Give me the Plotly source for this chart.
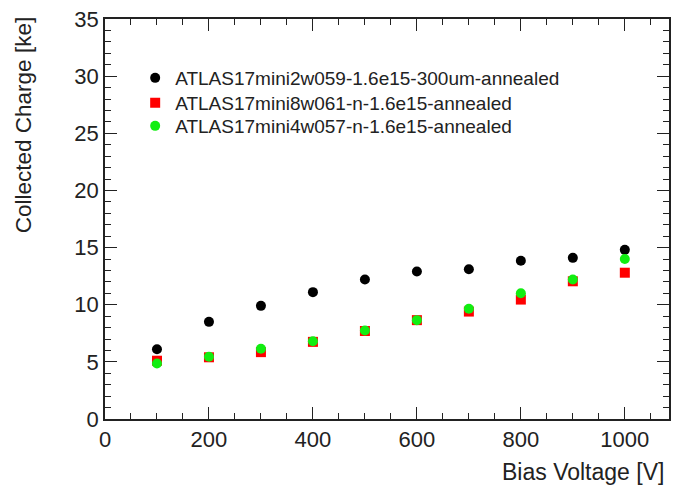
import plotly.graph_objects as go

bias_voltage = [100, 200, 300, 400, 500, 600, 700, 800, 900, 1000]
charge_w059 = [6.1, 8.5, 9.9, 11.1, 12.2, 12.9, 13.1, 13.85, 14.1, 14.8]
charge_w061 = [5.1, 5.4, 5.85, 6.75, 7.7, 8.65, 9.4, 10.45, 12.05, 12.8]
charge_w057 = [4.85, 5.45, 6.15, 6.8, 7.75, 8.65, 9.65, 11.0, 12.2, 14.0]

names = [
    "ATLAS17mini2w059-1.6e15-300um-annealed",
    "ATLAS17mini8w061-n-1.6e15-annealed",
    "ATLAS17mini4w057-n-1.6e15-annealed",
]
series = [charge_w059, charge_w061, charge_w057]
colors = ["#000000", "#ff0000", "#11ee11"]
symbols = ["circle", "square", "circle"]
legend_ids = ["legend", "legend2", "legend3"]
legend_tops = [0.9, 0.8375, 0.78]

FONT = "Liberation Sans, Arial, Helvetica, sans-serif"

fig = go.Figure()
for nm, ys, c, s, lg in zip(names, series, colors, symbols, legend_ids):
    fig.add_trace(go.Scatter(
        x=bias_voltage, y=ys, mode="markers", name=nm,
        legend=lg,
        marker=dict(color=c, symbol=s, size=10, line=dict(width=0)),
    ))

axis_common = dict(
    showline=True, linecolor="#222222", linewidth=1.5, mirror="ticks",
    ticks="inside", tickcolor="#222222", tickwidth=1,
    showgrid=False, zeroline=False,
    tickfont=dict(family=FONT, size=22, color="#222222"),
)

fig.update_xaxes(
    range=[0, 1085], tickvals=[0, 200, 400, 600, 800, 1000], ticklen=12,
    minor=dict(ticks="inside", dtick=50, tick0=0, ticklen=6, tickcolor="#222222", showgrid=False),
    **axis_common,
)
fig.update_yaxes(
    range=[0, 35], tickvals=[0, 5, 10, 15, 20, 25, 30, 35], ticklen=12,
    minor=dict(ticks="inside", dtick=1, tick0=0, ticklen=6, tickcolor="#222222", showgrid=False),
    **axis_common,
)

legend_style = dict(
    x=0.0535, xanchor="left", yanchor="top",
    font=dict(family=FONT, size=19, color="#222222"),
    bgcolor="rgba(0,0,0,0)", borderwidth=0,
)

fig.update_layout(
    width=674, height=488,
    margin=dict(l=105, r=3, t=19, b=69),
    paper_bgcolor="white", plot_bgcolor="white",
    font=dict(family=FONT, color="#222222"),
    showlegend=True,
    annotations=[
        dict(text="Collected Charge [ke]", xref="paper", yref="paper",
             x=-0.145, y=1.01, xanchor="center", yanchor="top",
             textangle=-90, showarrow=False,
             font=dict(family=FONT, size=22.5, color="#222222")),
        dict(text="Bias Voltage [V]", xref="paper", yref="paper",
             x=0.9947, y=-0.1325, xanchor="right", yanchor="middle",
             showarrow=False,
             font=dict(family=FONT, size=23, color="#222222")),
    ],
)
fig.update_layout({lg: dict(y=yt, **legend_style) for lg, yt in zip(legend_ids, legend_tops)})

fig.write_html("out.html")
